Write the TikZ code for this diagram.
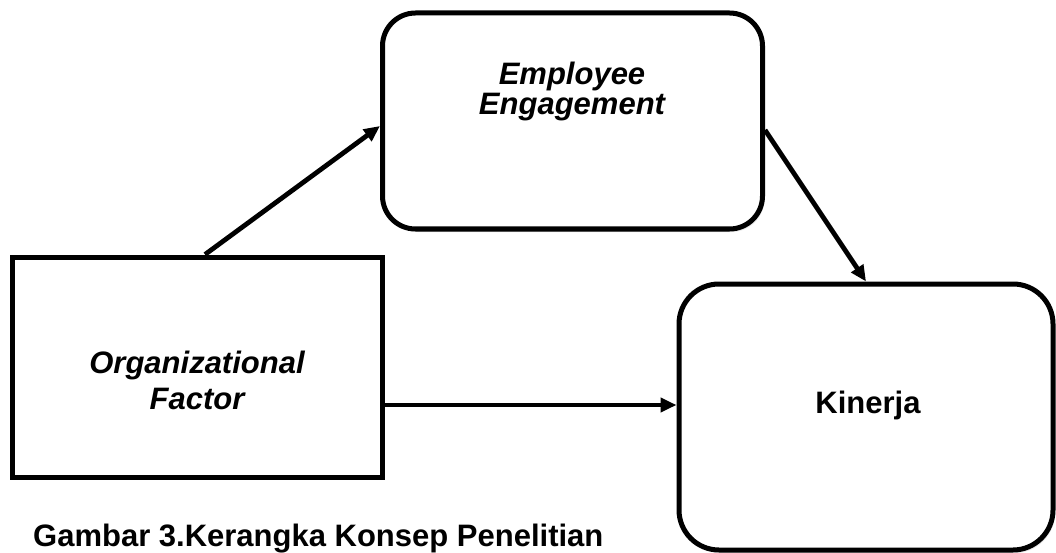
\documentclass[tikz,border=0pt]{standalone}
\usepackage{fontspec}
\setmainfont{Liberation Sans}
\usetikzlibrary{arrows.meta,shadows}
\begin{document}
\begin{tikzpicture}[x=1pt,y=-1pt,
  rbox/.style={draw=black,line width=5pt,fill=white,rounded corners=#1,
    drop shadow={opacity=0.18,shadow xshift=2pt,shadow yshift=-3pt}},
  sbox/.style={draw=black,line width=5pt,fill=white},
  lbl/.style={font=\fontsize{31}{#1}\selectfont\bfseries\itshape,align=center,inner sep=0pt},
  arr/.style={line width=4.8pt,-{Triangle[length=16pt,width=14pt]}}]
\useasboundingbox (0,0) rectangle (1056,553);
\node[rbox=33pt,minimum width=380pt,minimum height=216pt] (ee) at (572.5,121) {};
\node[sbox,minimum width=370pt,minimum height=220pt] (org) at (197,367) {};
\node[rbox=40pt,minimum width=374pt,minimum height=266pt] (kin) at (866,417) {};
\node[lbl=30pt,anchor=north] (eet) at (572,62) {Employee\\Engagement};
\node[lbl=36pt,anchor=north] (orgt) at (197,351) {Organizational\\Factor};
\node[font=\fontsize{31}{36}\selectfont\bfseries,inner sep=0pt,anchor=base] (kint) at (868,413) {Kinerja};
\node[anchor=base west,font=\fontsize{31}{36}\selectfont\bfseries,inner sep=0pt] (cap) at (33,546) {Gambar 3.Kerangka Konsep Penelitian};
\coordinate (h) at (0,405);
\draw[arr] ([xshift=8pt]org.north) -- ([yshift=-5pt]ee.west);
\draw[arr] ([yshift=-9pt]ee.east) -- (kin.north);
\draw[arr] (org.east |- h) -- (kin.west |- h);
\end{tikzpicture}
\end{document}
